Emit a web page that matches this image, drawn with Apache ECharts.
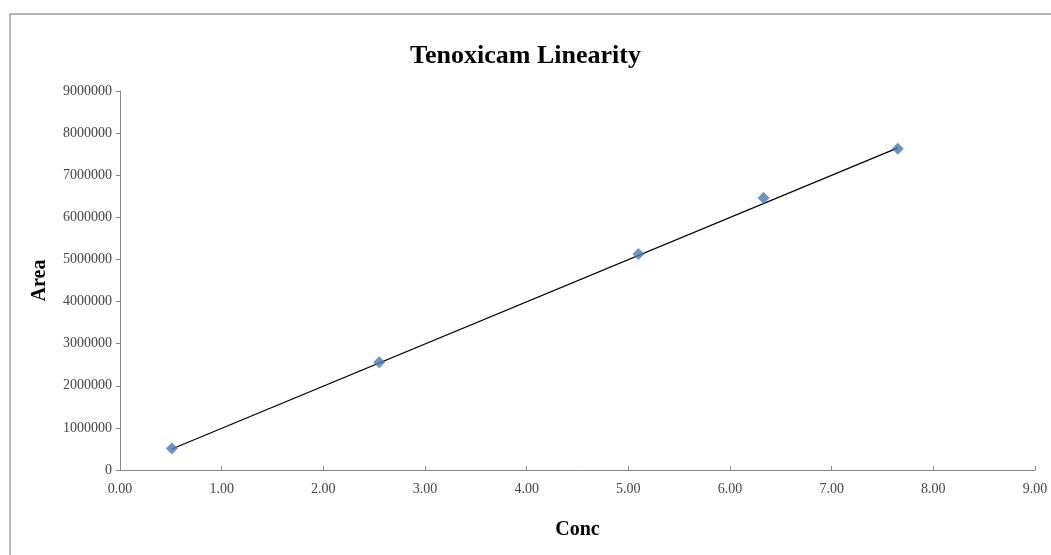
<!DOCTYPE html>
<html><head><meta charset="utf-8">
<script src="https://cdn.jsdelivr.net/npm/echarts@6/dist/echarts.min.js"></script>
<style>html,body{margin:0;padding:0;background:#fff}#c{width:1051px;height:555px}</style>
</head><body><div id="c"></div>
<script>
const conc = [0.51, 2.55, 5.10, 6.33, 7.65];
const area = [510000, 2560000, 5130000, 6460000, 7630000];
const trendX = [0.51, 7.65];
const trendY = [500000, 7650000];
const xTicks = [0,1,2,3,4,5,6,7,8,9];
const yTicks = [0,1000000,2000000,3000000,4000000,5000000,6000000,7000000,8000000,9000000];

const chart = echarts.init(document.getElementById('c'));
const serif = '"Liberation Serif","DejaVu Serif",serif';
chart.setOption({
  animation:false,
  backgroundColor:'#fff',
  graphic:[{type:'rect',shape:{x:10,y:14,width:1100,height:600},style:{fill:'#fff',stroke:'#a0a0a0',lineWidth:1.5},z:-10}],
  title:{text:'Tenoxicam Linearity',left:'center',top:38,textStyle:{fontFamily:serif,fontSize:26,fontWeight:'bold',color:'#000'}},
  grid:{left:120,right:16,top:91,bottom:85},
  xAxis:{type:'value',min:xTicks[0],max:xTicks[xTicks.length-1],interval:1,
    name:'Conc',nameLocation:'middle',nameGap:50,
    nameTextStyle:{fontFamily:serif,fontSize:20,fontWeight:'bold',color:'#000'},
    axisLine:{lineStyle:{color:'#888'}},axisTick:{show:true,length:4,inside:true,lineStyle:{color:'#888'}},
    splitLine:{show:false},
    axisLabel:{fontFamily:serif,fontSize:14,color:'#444',margin:12,formatter:v=>v.toFixed(2)}},
  yAxis:{type:'value',min:yTicks[0],max:yTicks[yTicks.length-1],interval:1000000,
    name:'Area',nameLocation:'middle',nameGap:70,
    nameTextStyle:{fontFamily:serif,fontSize:20,fontWeight:'bold',color:'#000'},
    axisLine:{show:true,lineStyle:{color:'#888'}},axisTick:{show:true,length:4,lineStyle:{color:'#888'}},
    splitLine:{show:false},
    axisLabel:{fontFamily:serif,fontSize:14,color:'#444',margin:8,formatter:v=>String(v)}},
  series:[
    {type:'line',data:trendX.map((x,i)=>[x,trendY[i]]),symbol:'none',lineStyle:{color:'#000',width:1.2},z:2},
    {type:'scatter',data:conc.map((x,i)=>[x,area[i]]),symbol:'diamond',symbolSize:12,
      itemStyle:{color:'#4a78b0'},z:3}
  ]
});
</script></body></html>
